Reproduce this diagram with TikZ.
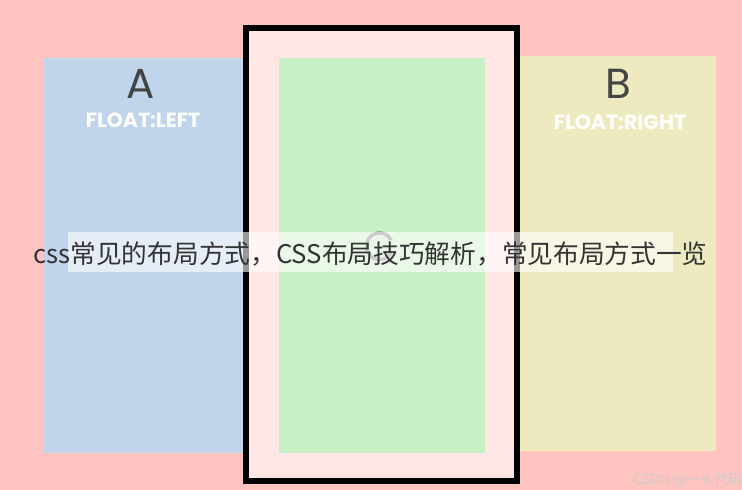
\documentclass[tikz,border=0pt]{standalone}
\usepackage{fontspec}
\setmainfont{Poppins}
\newfontfamily\cjk{Noto Sans CJK SC}
\newfontfamily\hand{Poppins}
\definecolor{bgpink}{HTML}{FFC4C0}
\definecolor{inpink}{HTML}{FFE7E5}
\definecolor{boxblue}{HTML}{C0D4EC}
\definecolor{boxgreen}{HTML}{C9EFC4}
\definecolor{boxyellow}{HTML}{EEEABF}
\definecolor{letter}{HTML}{444444}
\begin{document}
\begin{tikzpicture}[x=1pt,y=-1pt,
  letterlbl/.style={text=letter,font=\hand\fontsize{42}{42}\selectfont,inner sep=0pt},
  floatlbl/.style={text=white,font=\bfseries\fontsize{20.5}{20.5}\selectfont,inner sep=0pt},
  ]
\clip (0,0) rectangle (742,490);
\fill[bgpink] (0,0) rectangle (742,490);
\useasboundingbox (0,0) rectangle (742,490);
% side boxes
\fill[boxblue] (44,58) rectangle (250,453);
\fill[boxyellow] (512,56) rectangle (716,451);
% middle frame
\fill[inpink] (246,28) rectangle (517,481);
\draw[line width=5.5pt,black] (246,28) rectangle (517,481);
\fill[boxgreen] (279,58) rectangle (485,453);
% labels
\node[letterlbl] (la) at (141,84) {A};
\node[floatlbl] (fl) at (143,120) {FLOAT:LEFT};
\node[letterlbl] (lb) at (618,84) {B};
\node[floatlbl] (fr) at (620,122) {FLOAT:RIGHT};
\node[letterlbl,text=black!50] (lc) at (380,247) {C};
% overlay band
\fill[white,opacity=0.6] (68,232) rectangle (673,272);
\node[inner sep=0pt,text=black!80,font=\cjk\fontsize{25.7}{25.7}\selectfont] (title) at (370.5,254) {css常见的布局方式，CSS布局技巧解析，常见布局方式一览};
% watermark
\node[anchor=west,inner sep=0pt,text=black!20,font=\cjk\fontsize{14}{14}\selectfont] (wm) at (633,480) {CSDN @一头代码};
\end{tikzpicture}
\end{document}
